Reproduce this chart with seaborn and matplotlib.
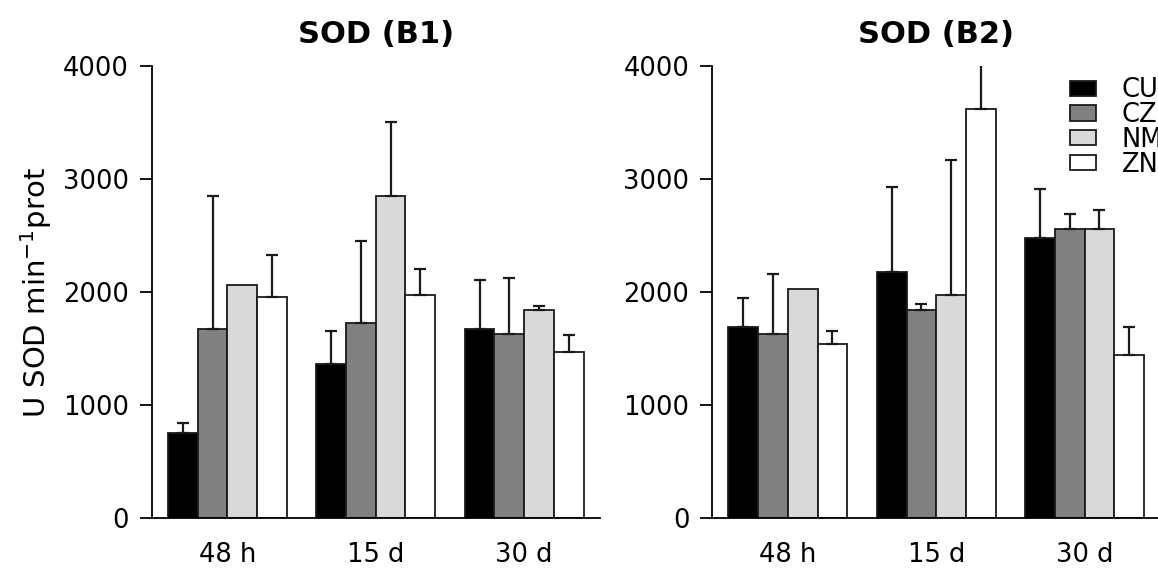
import numpy as np
import pandas as pd
import matplotlib.pyplot as plt
import seaborn as sns
from matplotlib.patches import Patch

times = ['48 h', '15 d', '30 d']
groups = ['CU', 'CZ', 'NM', 'ZN']
colors = ['#000000', '#808080', '#d9d9d9', '#ffffff']

# mean values, one row per group (CU, CZ, NM, ZN), columns = times
b1_mean = [[755, 1360, 1675],
           [1675, 1723, 1626],
           [2059, 2850, 1841],
           [1959, 1976, 1472]]
b1_err = [[83, 295, 434],
          [1175, 734, 498],
          [np.nan, 654, 32],
          [366, 233, 150]]

b2_mean = [[1693, 2180, 2481],
           [1626, 1841, 2560],
           [2024, 1973, 2560],
           [1540, 3617, 1442]]
b2_err = [[251, 749, 433],
          [533, 50, 136],
          [np.nan, 1195, 169],
          [115, 700, 248]]

sns.set_style('ticks')
plt.rcParams['font.family'] = ['DejaVu Sans']
plt.rcParams.update({'text.color': 'black', 'axes.labelcolor': 'black',
                     'xtick.color': 'black', 'ytick.color': 'black',
                     'axes.edgecolor': 'black'})


def to_long(mean, err):
    rows = []
    for g, m_row, e_row in zip(groups, mean, err):
        for t, m, e in zip(times, m_row, e_row):
            rows.append({'time': t, 'group': g, 'value': m, 'err': e})
    return pd.DataFrame(rows)


def draw_panel(ax, mean, err, title):
    df = to_long(mean, err)
    sns.barplot(data=df, x='time', y='value', hue='group', order=times,
                hue_order=groups, palette=colors, edgecolor='#1a1a1a',
                linewidth=1.3, errorbar=None, width=0.8, legend=False, ax=ax)
    # upper-only error bars on top of each bar
    for cont, g in zip(ax.containers, groups):
        sub = df[df['group'] == g].set_index('time').loc[times]
        for bar, e in zip(cont, sub['err']):
            if np.isnan(e):
                continue
            x = bar.get_x() + bar.get_width() / 2
            ax.errorbar(x, bar.get_height(), yerr=[[0], [e]], fmt='none',
                        ecolor='#1a1a1a', elinewidth=1.6, capsize=4,
                        capthick=1.6)
    ax.set_ylim(0, 4000)
    ax.set_xlim(-0.51, 2.51)
    ax.set_yticks([0, 1000, 2000, 3000, 4000])
    ax.set_title(title, fontsize=22, fontweight='bold', pad=17)
    ax.set_xlabel('')
    ax.set_ylabel('')
    sns.despine(ax=ax)
    ax.spines['left'].set_linewidth(1.3)
    ax.spines['bottom'].set_linewidth(1.3)
    ax.tick_params(axis='y', length=8.5, width=1.3, labelsize=18.5, pad=8)
    ax.tick_params(axis='x', length=0, labelsize=18.5, pad=17)


fig = plt.figure(figsize=(11.58, 5.69), dpi=100)
ax1 = fig.add_axes([0.131, 0.0896, 0.387, 0.794])
ax2 = fig.add_axes([0.615, 0.0896, 0.387, 0.794])

draw_panel(ax1, b1_mean, b1_err, 'SOD (B1)')
draw_panel(ax2, b2_mean, b2_err, 'SOD (B2)')

ax1.set_ylabel('U SOD min$^{-1}$prot', fontsize=21, labelpad=6)

handles = [Patch(facecolor=c, edgecolor='#1a1a1a', linewidth=1.3) for c in colors]
fig.legend(handles, groups, loc='upper left', bbox_to_anchor=(0.924, 0.864),
           frameon=False, fontsize=18.5, borderpad=0, borderaxespad=0,
           labelspacing=-0.05, handlelength=1.0, handleheight=0.55,
           handletextpad=1.0)

plt.savefig('out.png', dpi=100)
